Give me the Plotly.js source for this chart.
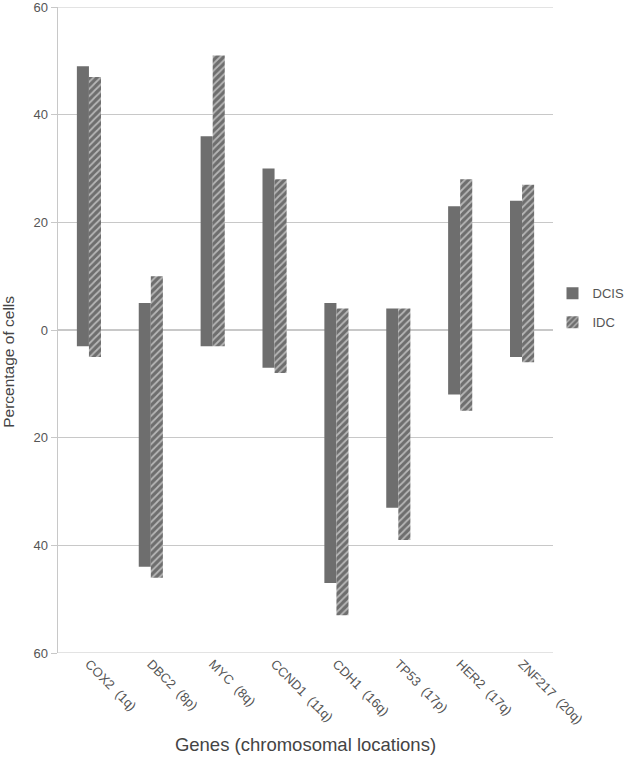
<!DOCTYPE html>
<html>
<head>
<meta charset="utf-8">
<script src="https://cdn.plot.ly/plotly-3.0.1.min.js"></script>
<style>html,body{margin:0;padding:0;background:#fff;}#chart{width:630px;height:761px;}</style>
</head>
<body>
<div id="chart"></div>
<script>
const genes = ["COX2  (1q)", "DBC2  (8p)", "MYC  (8q)", "CCND1  (11q)", "CDH1  (16q)", "TP53  (17p)", "HER2  (17q)", "ZNF217  (20q)"];
const dcisGain = [49, 5, 36, 30, 5, 4, 23, 24];
const dcisLoss = [3, 44, 3, 7, 47, 33, 12, 5];
const idcGain = [47, 10, 51, 28, 4, 4, 28, 27];
const idcLoss = [5, 46, 3, 8, 53, 39, 15, 6];
const yTicks = [-60, -40, -20, 0, 20, 40, 60];
const yTickText = ["60", "40", "20", "0", "20", "40", "60"];

const fam = "Liberation Sans, Arial, Helvetica, sans-serif";
const gridCol = "#c8c8c8";

const traces = [
  {
    type: "bar", name: "DCIS", x: genes, legendgroup: "a",
    base: dcisLoss.map(v => -v),
    y: dcisGain.map((g, i) => g + dcisLoss[i]),
    marker: {color: "#6e6e6e", line: {width: 0}}
  },
  {
    type: "bar", name: "IDC", x: genes, legendgroup: "b",
    base: idcLoss.map(v => -v),
    y: idcGain.map((g, i) => g + idcLoss[i]),
    marker: {color: "#6e6e6e", line: {width: 0},
      pattern: {shape: "/", fillmode: "overlay", bgcolor: "#6e6e6e", fgcolor: "#ffffff", size: 5, solidity: 0.35}}
  }
];

const layout = {
  width: 630, height: 761,
  margin: {l: 58, r: 77, t: 7, b: 108, autoexpand: false},
  paper_bgcolor: "#fff", plot_bgcolor: "#fff",
  font: {family: fam, size: 13, color: "#555"},
  barmode: "group", bargap: 0.61, bargroupgap: 0,
  showlegend: true,
  legend: {x: 0.999, xanchor: "left", y: 0.58, yanchor: "top", traceorder: "grouped", tracegroupgap: 9,
    font: {size: 13, color: "#555", family: fam}, itemwidth: 30},
  xaxis: {
    type: "category", tickangle: 45, showgrid: false, zeroline: false, automargin: false,
    showline: false, ticks: "", tickfont: {size: 13, color: "#555", family: fam},
    title: {text: "Genes (chromosomal locations)", font: {size: 18.5, color: "#444", family: fam}, standoff: 12}
  },
  yaxis: {
    range: [-60, 60], tickvals: yTicks, ticktext: yTickText, automargin: false,
    ticklabeloverflow: "allow",
    showgrid: true, gridcolor: gridCol, gridwidth: 1.2, zeroline: false,
    showline: true, linecolor: gridCol, linewidth: 1.5,
    ticks: "outside", ticklen: 6, tickcolor: gridCol,
    tickfont: {size: 13, color: "#555", family: fam}
  },
  shapes: [
    {type: "line", xref: "paper", yref: "y", x0: 0, x1: 1, y0: 60, y1: 60, line: {color: gridCol, width: 1.2}, layer: "below"},
    {type: "line", xref: "paper", yref: "y", x0: 0, x1: 1, y0: -60, y1: -60, line: {color: gridCol, width: 1.2}, layer: "below"}
  ],
  annotations: [
    {text: "Percentage of cells", xref: "paper", yref: "paper", x: -0.1, y: 0.45, xanchor: "center", yanchor: "middle",
     textangle: -90, showarrow: false, font: {size: 15.5, color: "#444", family: fam}}
  ]
};

Plotly.newPlot("chart", traces, layout, {displayModeBar: false, staticPlot: true});
</script>
</body>
</html>
